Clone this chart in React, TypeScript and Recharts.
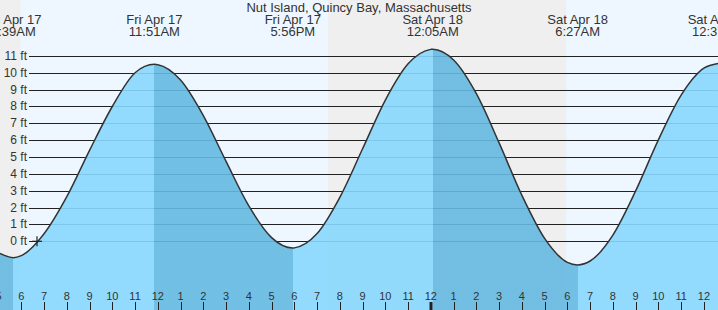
import React from 'react';
import { ComposedChart, Area, XAxis, YAxis, ReferenceArea, ReferenceLine, ReferenceDot } from 'recharts';

const FONT = '"Liberation Sans", Arial, Helvetica, sans-serif';
const TEXT = '#333333';

const title = 'Nut Island, Quincy Bay, Massachusetts';

// time axis in hours from Fri Apr 17 00:00
const sampleTimes = [
  5.064, 5.65, 6, 7, 8, 9, 10, 11, 11.85, 12, 13, 14, 15, 16, 17, 17.933, 18, 19, 20, 21, 22, 23, 24,
  24.083, 25, 26, 27, 28, 29, 30, 30.45, 31, 32, 33, 34, 35, 36, 36.62,
];
const sampleHeights = [
  -0.72, -0.97, -0.85, 0.45, 2.65, 5.4, 8.0, 10.0, 10.5, 10.48, 9.57, 7.46, 4.74, 2.1, 0.22, -0.4, -0.39,
  0.46, 2.61, 5.49, 8.38, 10.53, 11.39, 11.4, 10.76, 8.76, 5.84, 2.73, 0.17, -1.25, -1.4, -1.17, 0.37,
  2.99, 6.02, 8.67, 10.27, 10.55,
];

const extremeTimes = [5.65, 11.85, 17.933, 24.083, 30.45, 36.62];
const extremeKinds = ['L', 'H', 'L', 'H', 'L', 'H'];
const extremeDays = ['Fri Apr 17', 'Fri Apr 17', 'Fri Apr 17', 'Sat Apr 18', 'Sat Apr 18', 'Sat Apr 18'];
const extremeClock = ['5:39AM', '11:51AM', '5:56PM', '12:05AM', '6:27AM', '12:37PM'];

const hourTicks = [
  5, 6, 7, 8, 9, 10, 11, 12, 13, 14, 15, 16, 17, 18, 19, 20, 21, 22, 23, 24, 25, 26, 27, 28, 29, 30, 31,
  32, 33, 34, 35, 36,
];
const heightTicks = [0, 1, 2, 3, 4, 5, 6, 7, 8, 9, 10, 11];

const daylightStart = [5.97, 29.95];
const daylightEnd = [19.48, 36.62];

const nowTime = 6.69;
const nowHeight = 0;

const xDomain: [number, number] = [5.064, 36.62];
const yDomain: [number, number] = [-4.077, 14.32];

const data = sampleTimes.map((t, i) => ({ t, h: sampleHeights[i] }));

const LIGHT = '#88d8fe';
const DARK = '#65b9e2';

function buildStops() {
  const tFirst = sampleTimes[0];
  const tLast = sampleTimes[sampleTimes.length - 1];
  const span = tLast - tFirst;
  const stops: React.ReactNode[] = [];
  let prev = tFirst;
  extremeTimes.forEach((et, i) => {
    const end = Math.min(et, tLast);
    if (end <= prev) return;
    const color = extremeKinds[i] === 'L' ? DARK : LIGHT;
    stops.push(<stop key={`a${i}`} offset={(prev - tFirst) / span} stopColor={color} />);
    stops.push(<stop key={`b${i}`} offset={(end - tFirst) / span} stopColor={color} />);
    prev = end;
  });
  return stops;
}

const HourTick = (props: any) => {
  const { x, payload } = props;
  const t = payload.value as number;
  const hr = ((t % 12) + 12) % 12 || 12;
  const midnight = t % 24 === 0;
  const xx = Math.round(x) + (midnight ? 0 : 0.5);
  return (
    <g>
      <line x1={xx} x2={xx} y1={302} y2={310} stroke="#222" strokeWidth={midnight ? 3 : 1} />
      <text x={x} y={300} textAnchor="middle" fontSize={11} fontFamily={FONT} fill={TEXT}>
        {hr}
      </text>
    </g>
  );
};

const TopTick = (props: any) => {
  const { x, payload } = props;
  const idx = extremeTimes.indexOf(payload.value);
  if (idx < 0) return null;
  return (
    <g>
      <text x={x} y={24} textAnchor="middle" fontSize={13} fontFamily={FONT} fill={TEXT}>
        {extremeDays[idx]}
      </text>
      <text x={x} y={36} textAnchor="middle" fontSize={13} fontFamily={FONT} fill={TEXT}>
        {extremeClock[idx]}
      </text>
    </g>
  );
};

const makeGridShape = (v: number) => (p: any) => {
  const left = Math.min(p.x1, p.x2);
  const right = Math.max(p.x1, p.x2);
  const y = Math.round(p.y1) + 0.5;
  return (
    <g>
      <line x1={left + 29} x2={right} y1={y} y2={y} stroke="#222" strokeWidth={1} />
      <text x={left + 27} y={p.y1 + 4} textAnchor="end" fontSize={12} fontFamily={FONT} fill={TEXT}>
        {`${v} ft`}
      </text>
    </g>
  );
};

const CrossShape = (p: any) => {
  const { cx, cy } = p;
  return (
    <g>
      <line x1={cx - 5} x2={cx + 5} y1={cy} y2={cy} stroke="#222" strokeWidth={1.2} />
      <line x1={cx} x2={cx} y1={cy - 5} y2={cy + 5} stroke="#222" strokeWidth={1.2} />
    </g>
  );
};

export default function App() {
  return (
    <div
      style={{
        position: 'fixed',
        left: 0,
        top: 0,
        width: 718,
        height: 310,
        background: '#efefef',
        overflow: 'hidden',
      }}
    >
      <ComposedChart width={718} height={310} data={data} margin={{ top: 0, right: 0, bottom: 0, left: 0 }}>
        <defs>
          <linearGradient id="tideFill" x1="0" y1="0" x2="1" y2="0">
            {buildStops()}
          </linearGradient>
        </defs>
        <XAxis
          dataKey="t"
          type="number"
          domain={xDomain}
          allowDataOverflow
          ticks={hourTicks}
          interval={0}
          mirror
          axisLine={false}
          tickLine={false}
          tick={HourTick}
          zIndex={500}
        />
        <XAxis
          xAxisId="top"
          orientation="top"
          dataKey="t"
          type="number"
          domain={xDomain}
          allowDataOverflow
          ticks={extremeTimes}
          interval={0}
          mirror
          axisLine={false}
          tickLine={false}
          tick={TopTick}
          zIndex={500}
        />
        <YAxis hide type="number" domain={yDomain} allowDataOverflow />
        {daylightStart.map((a, i) => (
          <ReferenceArea
            key={`day${i}`}
            x1={a}
            x2={daylightEnd[i]}
            fill="#eef7ff"
            fillOpacity={1}
            stroke="none"
            ifOverflow="hidden"
            zIndex={-300}
          />
        ))}
        {heightTicks.map((v) => (
          <ReferenceLine key={`g${v}`} y={v} shape={makeGridShape(v)} zIndex={-200} />
        ))}
        <Area
          dataKey="h"
          type="monotone"
          baseValue="dataMin"
          fill="url(#tideFill)"
          fillOpacity={0.9}
          stroke="#333"
          strokeWidth={1.5}
          dot={false}
          activeDot={false}
          isAnimationActive={false}
          zIndex={100}
        />
        <ReferenceDot x={nowTime} y={nowHeight} shape={CrossShape} zIndex={600} />
      </ComposedChart>
      <svg
        width={718}
        height={20}
        style={{ position: 'absolute', left: 0, top: 0, pointerEvents: 'none' }}
      >
        <text x={359} y={12} textAnchor="middle" fontSize={13} fontFamily={FONT} fill={TEXT}>
          {title}
        </text>
      </svg>
    </div>
  );
}
